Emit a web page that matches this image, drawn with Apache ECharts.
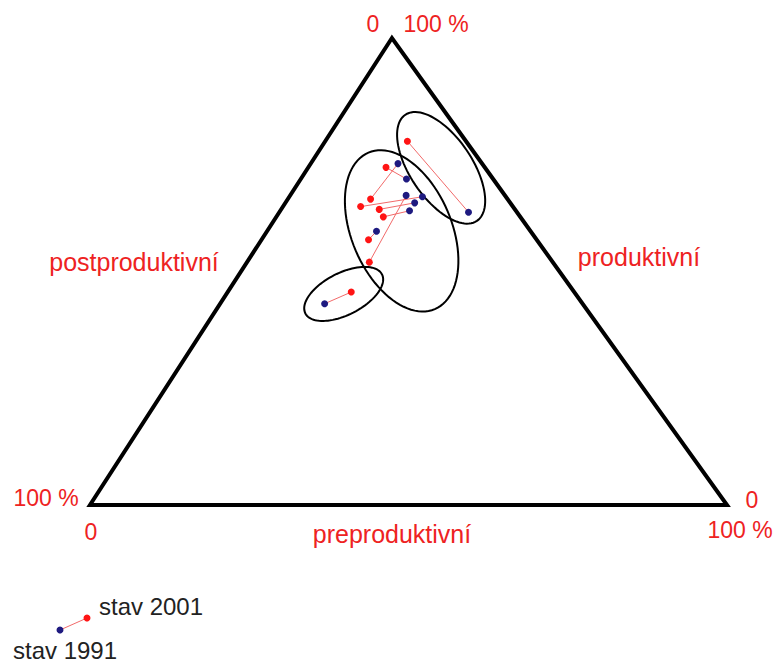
<!DOCTYPE html>
<html>
<head>
<meta charset="utf-8">
<title>Věková struktura – ternární graf</title>
<script src="https://cdn.jsdelivr.net/npm/echarts@6/dist/echarts.min.js"></script>
<style>
  html, body {
    margin: 0;
    padding: 0;
    background: #fff;
  }
  #chart {
    width: 778px;
    height: 663px;
  }
</style>
</head>
<body>
<div id="chart"></div>
<script>
// shares in % : preproduktivní, postproduktivní, produktivní
const pre2001 = [12.9, 12.2, 13.0, 12.2, 15.4, 16.8, 16.8, 19.2, 19.4]
const post2001 = [9.2, 15.5, 21.5, 23.9, 21.3, 21.5, 26.4, 28.8, 35.0]
const prod2001 = [77.9, 72.3, 65.5, 63.9, 63.3, 61.7, 56.8, 52.0, 45.6]

const pre1991 = [29.7, 16.6, 13.7, 20.9, 20.3, 20.3, 17.2, 18.2, 16.4]
const post1991 = [7.6, 13.6, 13.2, 13.1, 15.0, 16.7, 24.2, 15.5, 40.5]
const prod1991 = [62.7, 69.8, 73.1, 66.0, 64.7, 63.0, 58.6, 66.3, 43.1]

// centres of the three highlighted groups (same shares)
const groupPre = [20.9, 21.1, 18.4]
const groupPost = [6.9, 20.2, 36.4]
const groupProd = [72.2, 58.7, 45.2]

// triangle corners: produktivní, postproduktivní, preproduktivní = 100 %
const cornerPre = [0, 0, 100]
const cornerPost = [0, 100, 0]
const cornerProd = [100, 0, 0]

// apex sits a bit left of the base midpoint in the original drawing
const APEX_X = 47.4

const toXY = (pre, post, prod) => [pre + prod * APEX_X / 100, prod]

const pts2001 = pre2001.map((p, i) => toXY(p, post2001[i], prod2001[i]))
const pts1991 = pre1991.map((p, i) => toXY(p, post1991[i], prod1991[i]))
const pairs = pts2001.map((p, i) => [p[0], p[1], pts1991[i][0], pts1991[i][1]])
const corners = cornerPre.map((p, i) => toXY(p, cornerPost[i], cornerProd[i]))
const groups = groupPre.map((p, i) => toXY(p, groupPost[i], groupProd[i]))

// ellipse shape in pixels: semi axes and tilt (deg, screen)
const groupShape = [
  { rx: 64, ry: 31, rot: 56 },
  { rx: 85, ry: 50, rot: 67 },
  { rx: 43, ry: 21, rot: -27 }
]

const RED = '#ff1414'
const BLUE = '#1e1a80'
const LINK = '#f26a6a'
const LABEL = '#ee2222'
const FONT = "'Liberation Sans', Arial, sans-serif"

const chart = echarts.init(document.getElementById('chart'), null, { renderer: 'svg' })

const label = (text, x, y, size, color) => ({
  type: 'text',
  x: x,
  y: y,
  silent: true,
  style: {
    text: text,
    fill: color || LABEL,
    font: size + 'px ' + FONT,
    align: 'center',
    verticalAlign: 'middle'
  }
})

chart.setOption({
  animation: false,
  grid: {
    left: 90,
    right: 51,
    top: 38,
    bottom: 158
  },
  xAxis: { type: 'value', min: 0, max: 100, show: false },
  yAxis: { type: 'value', min: 0, max: 100, show: false },
  series: [
    {
      // triangle frame
      type: 'custom',
      clip: false,
      silent: true,
      data: [0],
      renderItem: (params, api) => ({
        type: 'polygon',
        shape: { points: corners.map(c => api.coord(c)) },
        style: { fill: 'none', stroke: '#000', lineWidth: 4, lineJoin: 'miter' }
      })
    },
    {
      // group ellipses
      type: 'custom',
      clip: false,
      silent: true,
      data: groups,
      renderItem: (params, api) => {
        const c = api.coord([api.value(0), api.value(1)])
        const s = groupShape[params.dataIndex]
        const t = s.rot * Math.PI / 180
        const pts = []
        for (let k = 0; k < 96; k++) {
          const a = k / 96 * Math.PI * 2
          const ex = s.rx * Math.cos(a)
          const ey = s.ry * Math.sin(a)
          pts.push([c[0] + ex * Math.cos(t) - ey * Math.sin(t), c[1] + ex * Math.sin(t) + ey * Math.cos(t)])
        }
        return {
          type: 'polygon',
          shape: { points: pts },
          style: { fill: 'none', stroke: '#000', lineWidth: 2 }
        }
      }
    },
    {
      // 1991 -> 2001 connectors
      type: 'custom',
      clip: false,
      silent: true,
      data: pairs,
      renderItem: (params, api) => {
        const a = api.coord([api.value(0), api.value(1)])
        const b = api.coord([api.value(2), api.value(3)])
        return {
          type: 'line',
          shape: { x1: a[0], y1: a[1], x2: b[0], y2: b[1] },
          style: { stroke: LINK, lineWidth: 1 }
        }
      }
    },
    {
      name: 'stav 1991',
      type: 'scatter',
      symbolSize: 7,
      itemStyle: { color: BLUE, opacity: 1 },
      data: pts1991
    },
    {
      name: 'stav 2001',
      type: 'scatter',
      symbolSize: 7,
      itemStyle: { color: RED, opacity: 1 },
      data: pts2001
    }
  ],
  graphic: [
    label('0', 373, 24, 23),
    label('100 %', 436, 24, 23),
    label('100 %', 46, 498, 23),
    label('0', 91, 532, 23),
    label('0', 752, 500, 23),
    label('100 %', 740, 530, 23),
    label('postproduktivní', 134, 262, 25),
    label('produktivní', 639, 257, 25),
    label('preproduktivní', 392, 534, 25),
    // legend sample
    {
      type: 'line',
      silent: true,
      shape: { x1: 60, y1: 630, x2: 87, y2: 618 },
      style: { stroke: LINK, lineWidth: 1 }
    },
    { type: 'circle', silent: true, shape: { cx: 60, cy: 630, r: 3.5 }, style: { fill: BLUE } },
    { type: 'circle', silent: true, shape: { cx: 87, cy: 618, r: 3.5 }, style: { fill: RED } },
    label('stav 2001', 151, 606, 24, '#222'),
    label('stav 1991', 65, 650, 24, '#222')
  ]
})

window.addEventListener('resize', () => chart.resize())
</script>
</body>
</html>
